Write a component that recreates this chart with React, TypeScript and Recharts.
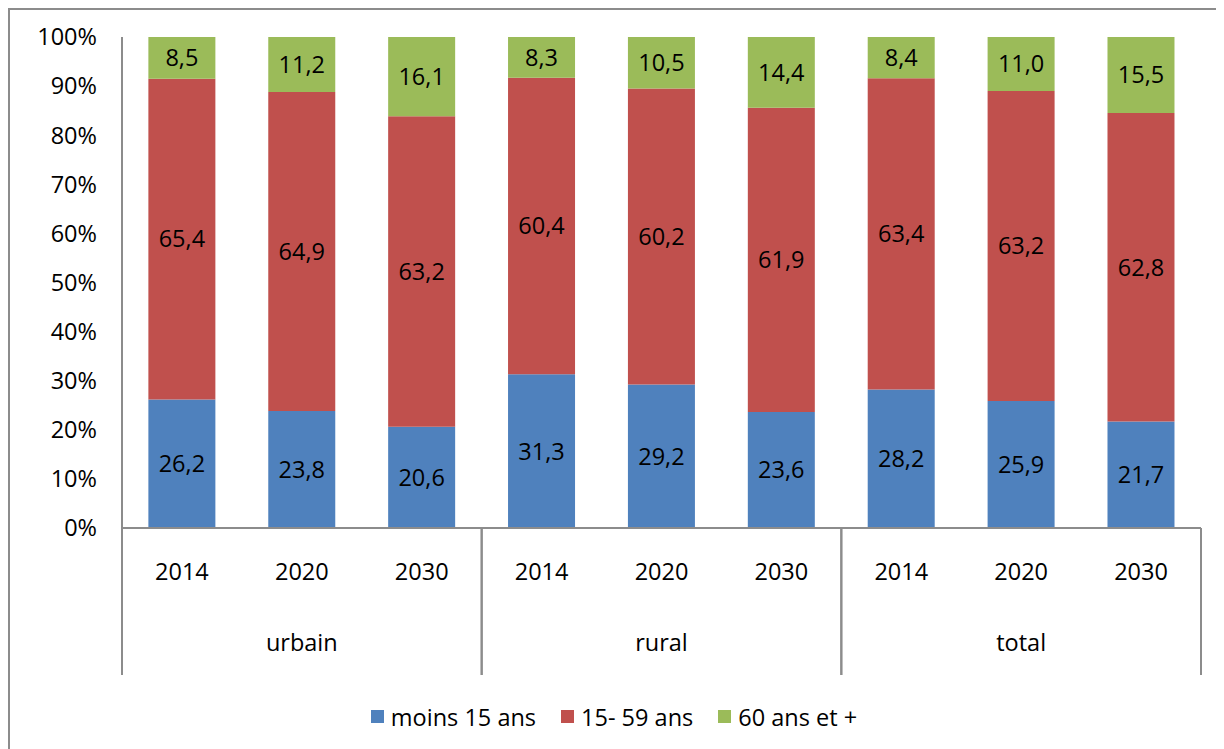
import { Bar, BarChart, LabelList, Legend, XAxis, YAxis } from "recharts"

const groups = ["urbain", "rural", "total"]
const years = ["2014", "2020", "2030"]

// values per bar, in order urbain 2014..2030, rural 2014..2030, total 2014..2030
const moins15 = [26.2, 23.8, 20.6, 31.3, 29.2, 23.6, 28.2, 25.9, 21.7]
const ans15a59 = [65.4, 64.9, 63.2, 60.4, 60.2, 61.9, 63.4, 63.2, 62.8]
const ans60plus = [8.5, 11.2, 16.1, 8.3, 10.5, 14.4, 8.4, 11.0, 15.5]

const yTicks = [0, 0.1, 0.2, 0.3, 0.4, 0.5, 0.6, 0.7, 0.8, 0.9, 1]

const series = [
  { key: "a", name: "moins 15 ans", color: "#4F81BD" },
  { key: "b", name: "15- 59 ans", color: "#C0504D" },
  { key: "c", name: "60 ans et +", color: "#9BBB59" },
]

const data = groups.flatMap((g, gi) =>
  years.map((y, yi) => {
    const i = gi * years.length + yi
    return { id: `${g}-${y}`, group: g, year: y, pos: yi, a: moins15[i], b: ans15a59[i], c: ans60plus[i] }
  })
)

const FONT = "'Open Sans', 'Noto Sans', sans-serif"
const FS = 23.5
const AXIS = "#8C8C8C"

const fmt = (v: any) => (typeof v === "number" ? v.toFixed(1).replace(".", ",") : v)

function CategoryTick(props: any) {
  const { x, y, payload, index } = props
  const row = data[index ?? payload?.index ?? 0]
  if (!row) return null
  const half = typeof payload?.offset === "number" && payload.offset > 0 ? payload.offset : 60
  return (
    <g>
      <text x={x} y={y + 43} textAnchor="middle" dominantBaseline="central" fontSize={FS} fontFamily={FONT} fill="#000">
        {row.year}
      </text>
      {row.pos === 1 && (
        <text x={x} y={y + 114} textAnchor="middle" dominantBaseline="central" fontSize={FS} fontFamily={FONT} fill="#000">
          {row.group}
        </text>
      )}
      {row.pos === 0 && <line x1={x - half} x2={x - half} y1={y} y2={y + 147} stroke={AXIS} strokeWidth={2} />}
      {row.pos === years.length - 1 && (
        <line x1={x + half} x2={x + half} y1={y} y2={y + 147} stroke={AXIS} strokeWidth={2} />
      )}
    </g>
  )
}

function LegendContent() {
  return (
    <div
      style={{
        height: 61,
        paddingTop: 16,
        paddingLeft: 17,
        boxSizing: "border-box",
        display: "flex",
        justifyContent: "center",
        gap: 25,
        fontFamily: FONT,
        fontSize: FS,
        lineHeight: "24px",
        color: "#000",
      }}
    >
      {series.map((s) => (
        <div key={s.key} style={{ display: "flex", alignItems: "center" }}>
          <span style={{ width: 13, height: 13, background: s.color, display: "inline-block", marginRight: 7 }} />
          <span>{s.name}</span>
        </div>
      ))}
    </div>
  )
}

export default function App() {
  return (
    <div
      style={{
        width: 1214,
        height: 739,
        borderTop: `2px solid ${AXIS}`,
        borderLeft: `2px solid ${AXIS}`,
        background: "#fff",
      }}
    >
      <BarChart
        width={1214}
        height={739}
        data={data}
        stackOffset="expand"
        barCategoryGap="22%"
        margin={{ top: 27, right: 23, bottom: 10, left: 0 }}
      >
        <XAxis
          dataKey="id"
          interval={0}
          height={150}
          tickLine={false}
          tickSize={0}
          tickMargin={0}
          axisLine={{ stroke: AXIS, strokeWidth: 2 }}
          tick={<CategoryTick />}
        />
        <YAxis
          width={112}
          ticks={yTicks}
          domain={[0, 1]}
          interval={0}
          tickLine={false}
          tickSize={6}
          tickMargin={19}
          axisLine={{ stroke: AXIS, strokeWidth: 2 }}
          tickFormatter={(v: number) => `${Math.round(v * 100)}%`}
          tick={{ fontSize: FS, fontFamily: FONT, fill: "#000" }}
        />
        <Legend verticalAlign="bottom" content={<LegendContent />} />
        {series.map((s) => (
          <Bar key={s.key} dataKey={s.key} name={s.name} stackId="x" fill={s.color} isAnimationActive={false}>
            <LabelList
              dataKey={s.key}
              position="center"
              formatter={fmt}
              style={{ fontSize: FS, fontFamily: FONT, fill: "#000" }}
            />
          </Bar>
        ))}
      </BarChart>
    </div>
  )
}
